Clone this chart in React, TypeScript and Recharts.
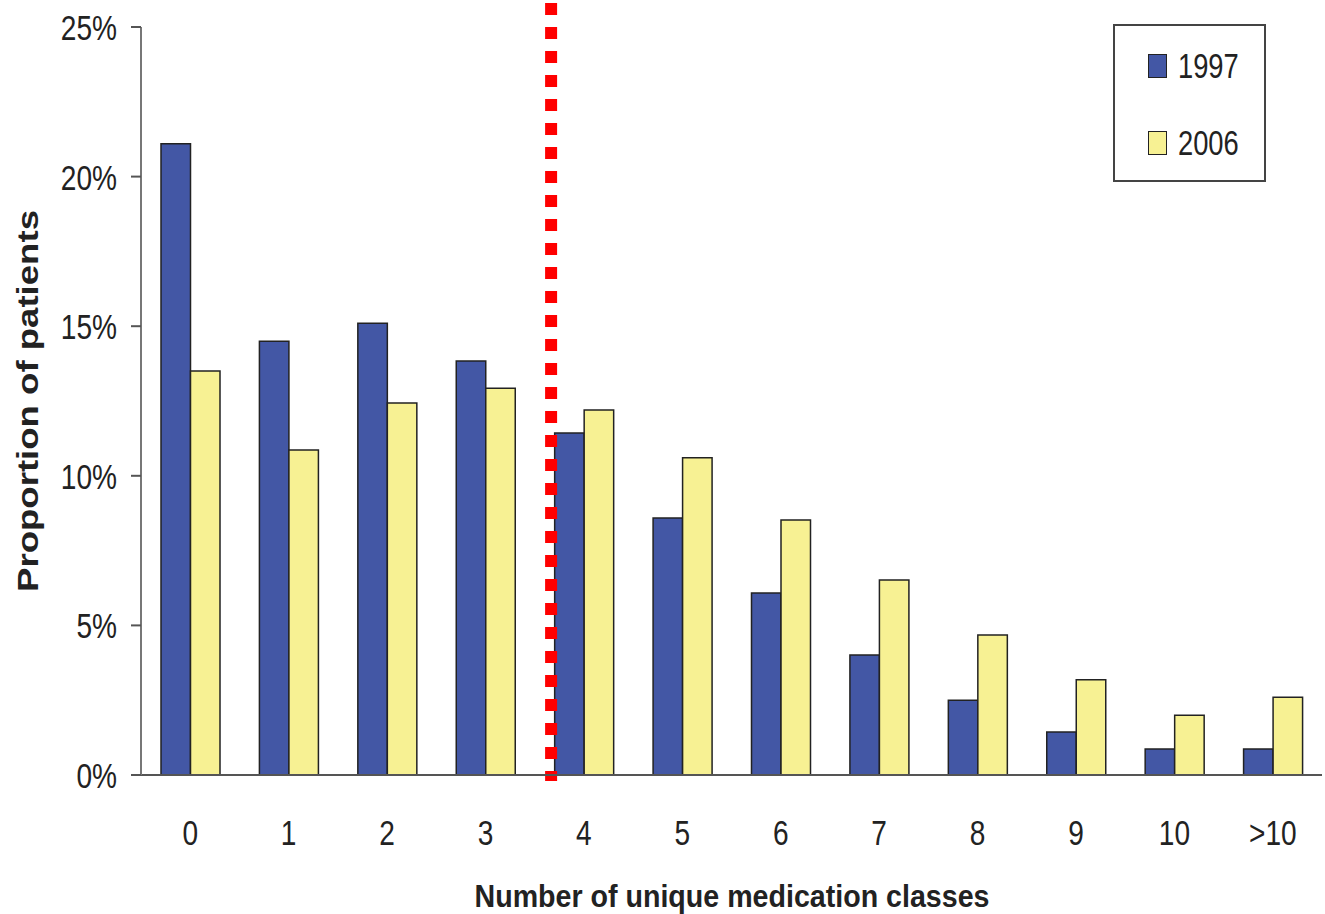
import React from "react";
import { BarChart, Bar, XAxis, YAxis, ReferenceLine, Label } from "recharts";

const categories = ["0", "1", "2", "3", "4", "5", "6", "7", "8", "9", "10", ">10"];
const values1997 = [21.1, 14.5, 15.1, 13.84, 11.43, 8.59, 6.08, 4.01, 2.5, 1.44, 0.87, 0.87];
const values2006 = [13.5, 10.86, 12.43, 12.93, 12.2, 10.6, 8.52, 6.52, 4.68, 3.18, 2.0, 2.6];
const yTicks = [0, 5, 10, 15, 20, 25];
const cutoff = 4.167;
const seriesNames = ["1997", "2006"];

const positions = categories.map((_, i) => i + 0.5);
const data = categories.map((c, i) => ({ name: c, pos: positions[i], y1997: values1997[i], y2006: values2006[i] }));

const BLUE = "#4357a5";
const YELLOW = "#f7f193";
const SANS = "'Liberation Sans', Arial, sans-serif";
const NARROW_SCALE = 0.78;

const XTick = (props: any) => {
  const { x, y, payload } = props;
  const idx = Math.round(payload.value - 0.5);
  return (
    <g transform={`translate(${x},${y})`}>
      <text transform={`scale(${NARROW_SCALE},1)`} textAnchor="middle" dy={70} fontFamily={SANS} fontSize={36} fill="#222">
        {categories[idx]}
      </text>
    </g>
  );
};

const YTick = (props: any) => {
  const { x, y, payload } = props;
  return (
    <g transform={`translate(${x},${y})`}>
      <text transform={`scale(${NARROW_SCALE},1)`} textAnchor="end" dy={13} fontFamily={SANS} fontSize={36} fill="#222">
        {`${payload.value}%`}
      </text>
    </g>
  );
};

const LegendBox = () => (
  <div
    style={{
      position: "absolute",
      left: 1113,
      top: 24,
      width: 153,
      height: 158,
      boxSizing: "border-box",
      border: "2px solid #444",
      background: "#fff",
      fontFamily: SANS,
      fontSize: 35,
      color: "#222",
    }}
  >
    {seriesNames.map((label, i) => (
      <div key={label} style={{ position: "absolute", left: 33, top: i === 0 ? 25 : 102, height: 30, display: "flex", alignItems: "center" }}>
        <div style={{ width: 19, height: 24, background: i === 0 ? BLUE : YELLOW, border: "1.5px solid #222", boxSizing: "border-box" }} />
        <span style={{ marginLeft: 11, lineHeight: "30px", display: "inline-block", transform: `scaleX(${NARROW_SCALE})`, transformOrigin: "left center" }}>
          {label}
        </span>
      </div>
    ))}
  </div>
);

export default function App() {
  return (
    <div style={{ position: "absolute", left: 0, top: 0, width: 1325, height: 914, background: "#fff" }}>
      <BarChart
        width={1325}
        height={914}
        data={data}
        margin={{ top: 27, right: 3, left: 0, bottom: 0 }}
        barGap={0}
        barSize={29.5}
      >
        <XAxis
          dataKey="pos"
          type="number"
          domain={[0, 12]}
          allowDataOverflow
          ticks={positions}
          height={139}
          tickLine={false}
          tickSize={0}
          tickMargin={0}
          axisLine={{ stroke: "#555", strokeWidth: 2 }}
          tick={<XTick />}
          interval={0}
        >
          <Label
            content={() => (
              <text
                x={732}
                y={907}
                textAnchor="middle"
                fontFamily={SANS}
                fontWeight="bold"
                fontSize={32}
                fill="#222"
                textLength={515}
                lengthAdjust="spacingAndGlyphs"
              >
                Number of unique medication classes
              </text>
            )}
          />
        </XAxis>
        <YAxis
          width={141}
          domain={[0, 25]}
          ticks={yTicks}
          tickSize={10}
          tickMargin={14}
          axisLine={{ stroke: "#777", strokeWidth: 2 }}
          tickLine={{ stroke: "#555", strokeWidth: 2 }}
          tick={<YTick />}
        >
          <Label
            content={() => (
              <text
                x={38}
                y={401}
                transform="rotate(-90 38 401)"
                textAnchor="middle"
                fontFamily={SANS}
                fontWeight="bold"
                fontSize={30}
                fill="#222"
                textLength={382}
                lengthAdjust="spacingAndGlyphs"
              >
                Proportion of patients
              </text>
            )}
          />
        </YAxis>
        <Bar dataKey="y1997" name={seriesNames[0]} fill={BLUE} stroke="#222" strokeWidth={1.5} isAnimationActive={false} />
        <Bar dataKey="y2006" name={seriesNames[1]} fill={YELLOW} stroke="#222" strokeWidth={1.5} isAnimationActive={false} />
        <ReferenceLine
          segment={[
            { x: cutoff, y: 25.8 },
            { x: cutoff, y: -0.2 },
          ]}
          ifOverflow="visible"
          stroke="#ff0000"
          strokeWidth={12}
          strokeDasharray="12 12"
        />
      </BarChart>
      <LegendBox />
    </div>
  );
}
